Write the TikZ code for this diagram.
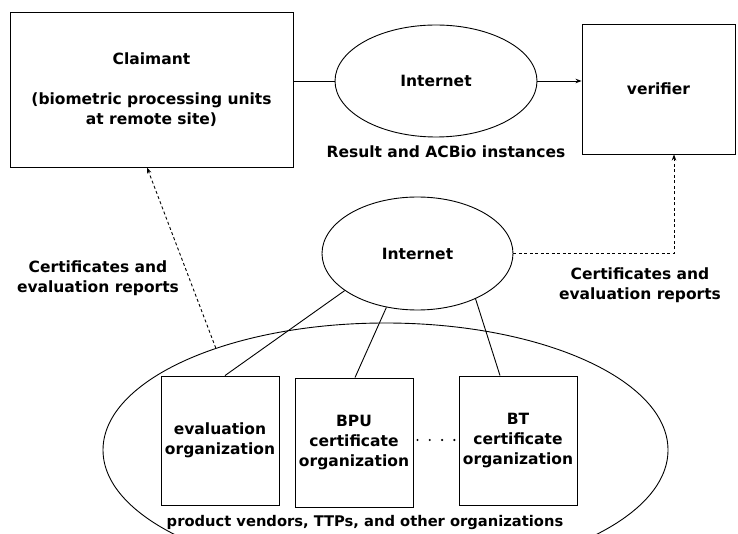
\documentclass[tikz,border=0pt]{standalone}
\usepackage{fontspec}
\setmainfont{DejaVu Sans}
\usetikzlibrary{shapes.geometric,arrows.meta}

\tikzset{
  lbl/.style={font=\fontsize{15.5}{20}\selectfont\bfseries, align=center, inner sep=0pt},
  box/.style={draw, line width=0.9pt, lbl},
  cloud/.style={draw, ellipse, line width=0.9pt, lbl, inner sep=0pt},
  wire/.style={line width=0.9pt},
  tip/.style={-{Stealth[length=6pt,width=4.5pt]}},
  dots/.style={line width=0.9pt, dash pattern=on 3pt off 2.5pt},
}

\begin{document}
\begin{tikzpicture}[x=1pt, y=-1pt]
  \path[use as bounding box, clip] (0,0) rectangle (738,534);

  % outer grouping of organizations
  \node[cloud, minimum width=565, minimum height=254] (orgs) at (385.5,450) {};

  % top row
  \node[box, minimum width=283, minimum height=155] (claimant) at (151.5,89.5)
    {Claimant\\[20pt](biometric processing units\\at remote site)};
  \node[cloud, minimum width=202, minimum height=112] (net1) at (436,81) {Internet};
  \node[box, minimum width=153, minimum height=130] (verifier) at (658.5,89) {verifier};
  \node[lbl] (result) at (446,152) {Result and ACBio instances};

  % second internet cloud
  \node[cloud, minimum width=191, minimum height=113] (net2) at (417.5,253.5) {Internet};

  % organizations
  \node[box, minimum width=118, minimum height=129] (evalorg) at (220,440.5)
    {evaluation\\organization};
  \node[box, minimum width=118, minimum height=129] (bpu) at (354,442.5)
    {BPU\\certificate\\organization};
  \node[box, minimum width=118, minimum height=129] (bt) at (518,440.5)
    {BT\\certificate\\organization};
  \node[lbl, font=\fontsize{14.7}{19}\selectfont\bfseries] (vendors) at (365,522)
    {product vendors, TTPs, and other organizations};

  % labels of the certificate flows
  \node[lbl] (certl) at (98,278) {Certificates and\\evaluation reports};
  \node[lbl] (certr) at (640,285) {Certificates and\\evaluation reports};

  % result path
  \draw[wire] (claimant.east |- net1.west) -- (net1.west);
  \draw[wire, tip] (net1.east) -- (net1.east -| verifier.west);

  % certificate flows
  \draw[dots, tip] (net2.east) -| ([xshift=15.5pt]verifier.south);
  \draw[dots, tip] (orgs.149) -- ([xshift=-4.5pt]claimant.south);

  % links from the second cloud to the organizations
  \draw[wire] (net2.207) -- ([xshift=5pt]evalorg.north);
  \draw[wire] (net2.240) -- ([xshift=1pt]bpu.north);
  \draw[wire] (net2.322) -- ([xshift=-18pt]bt.north);

  % ellipsis between organizations
  \draw[line width=2.4pt, line cap=round, dash pattern=on 0pt off 12.3pt, dash phase=8.3pt]
    ([yshift=2.5pt]bpu.east) -- ([yshift=2.5pt]bpu.east -| bt.west);
\end{tikzpicture}
\end{document}
